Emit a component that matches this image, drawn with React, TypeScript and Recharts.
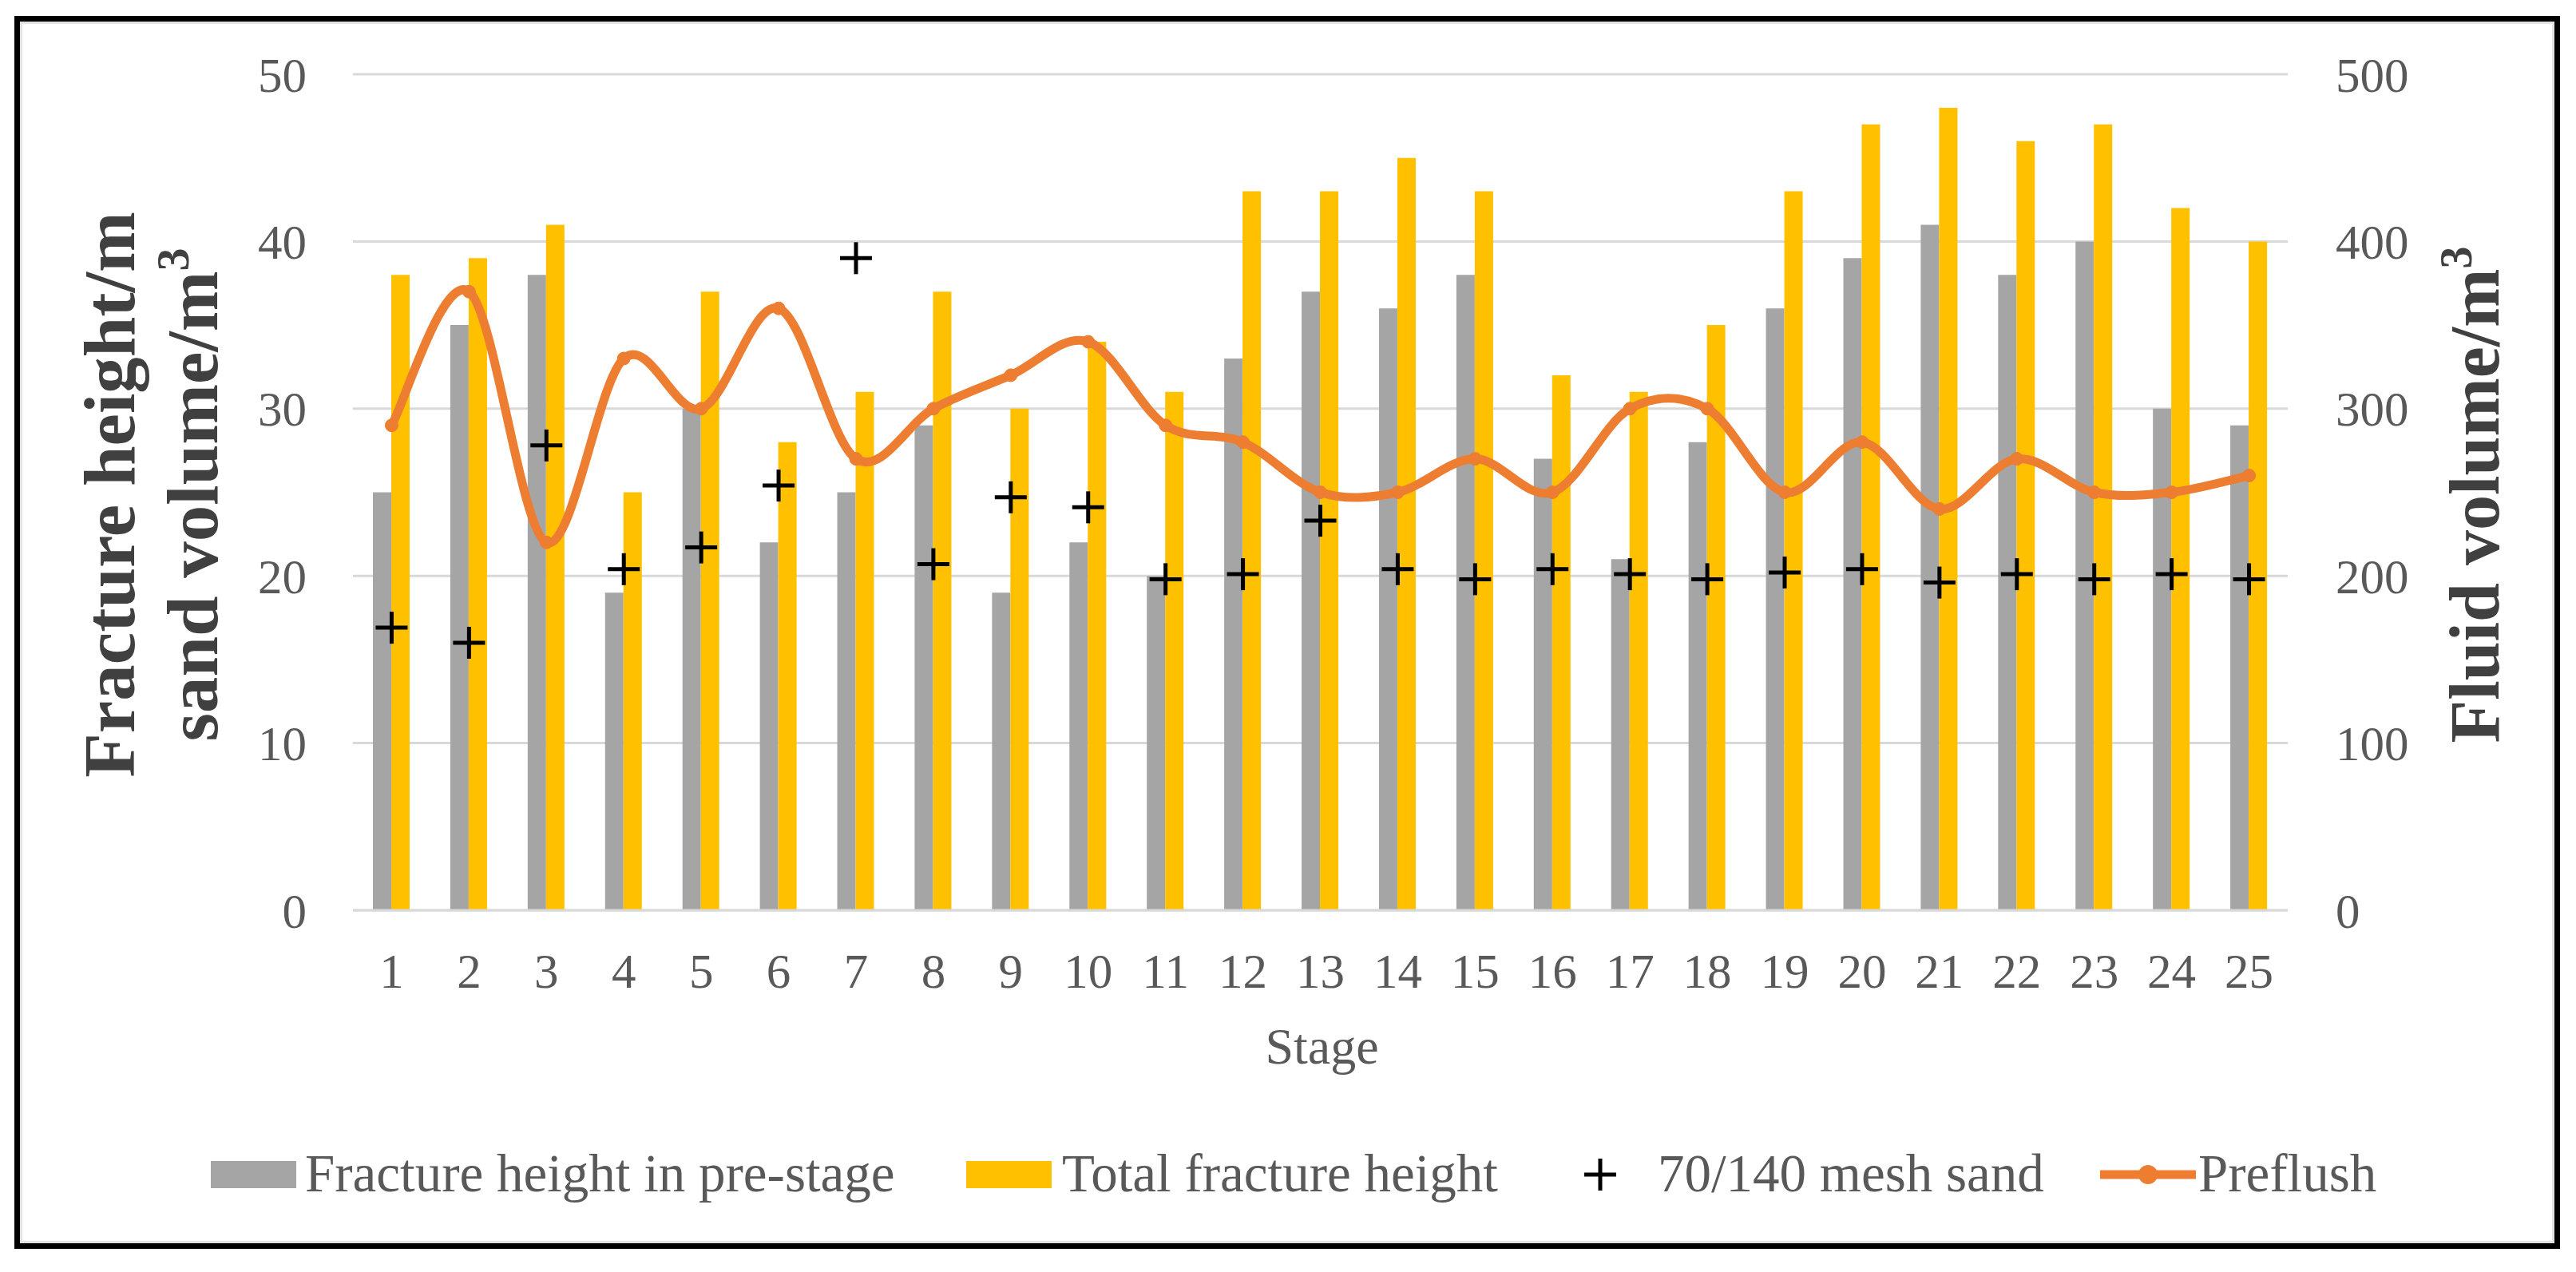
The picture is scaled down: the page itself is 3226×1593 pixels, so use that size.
import React from 'react';
import { ComposedChart, Bar, Line, Scatter, XAxis, YAxis, CartesianGrid, Legend, Label } from 'recharts';

const stages = ['1','2','3','4','5','6','7','8','9','10','11','12','13','14','15','16','17','18','19','20','21','22','23','24','25'];
const preStageHeight = [25,35,38,19,30,22,25,29,19,22,20,33,37,36,38,27,21,28,36,39,41,38,40,30,29];
const totalHeight = [38,39,41,25,37,28,31,37,30,34,31,43,43,45,43,32,31,35,43,47,48,46,47,42,40];
const meshSand = [16.9,16.0,27.8,20.4,21.7,25.4,39.0,20.7,24.7,24.1,19.8,20.1,23.3,20.4,19.8,20.4,20.1,19.8,20.2,20.4,19.6,20.1,19.8,20.1,19.8];
const preflush = [290,370,220,330,300,360,270,300,320,340,290,280,250,250,270,250,300,300,250,280,240,270,250,250,260];
const leftTicks = [0,10,20,30,40,50];
const rightTicks = [0,100,200,300,400,500];
const seriesNames = ['Fracture height in pre-stage','Total fracture height','70/140 mesh sand','Preflush'];

const data = stages.map((s, i) => ({
  stage: s,
  pre: preStageHeight[i],
  total: totalHeight[i],
  sand: meshSand[i],
  preflush: preflush[i],
}));

const SERIF = "'Liberation Serif', 'Times New Roman', serif";
const GRAY = '#A5A5A5';
const YELLOW = '#FFC000';
const ORANGE = '#ED7D31';
const TEXT = '#595959';
const TITLE = '#404040';

// Excel-like smoothed line (Catmull-Rom as cubic Bezier)
function excelSmooth(context: any) {
  let pts: number[][] = [];
  return {
    areaStart() {},
    areaEnd() {},
    lineStart() { pts = []; },
    point(x: number, y: number) { pts.push([+x, +y]); },
    lineEnd() {
      const n = pts.length;
      if (!n) return;
      context.moveTo(pts[0][0], pts[0][1]);
      for (let i = 0; i < n - 1; i++) {
        const p0 = pts[i - 1] || pts[i];
        const p1 = pts[i];
        const p2 = pts[i + 1];
        const p3 = pts[i + 2] || p2;
        context.bezierCurveTo(
          p1[0] + (p2[0] - p0[0]) / 6, p1[1] + (p2[1] - p0[1]) / 6,
          p2[0] - (p3[0] - p1[0]) / 6, p2[1] - (p3[1] - p1[1]) / 6,
          p2[0], p2[1]
        );
      }
    },
  };
}

const PlusShape = (props: any) => {
  const { cx, cy } = props;
  if (cx == null || cy == null) return null;
  const h = 20;
  return (
    <g>
      <line x1={cx - h} y1={cy} x2={cx + h} y2={cy} stroke="#000" strokeWidth={5} />
      <line x1={cx} y1={cy - h} x2={cx} y2={cy + h} stroke="#000" strokeWidth={5} />
    </g>
  );
};

const LeftTitle = (props: any) => {
  const vb = props.viewBox || {};
  const cy = vb.y + vb.height / 2 + 3;
  const x1 = vb.x - 74;
  const x2 = vb.x + 30;
  return (
    <g>
      <text x={x1} y={cy} transform={`rotate(-90, ${x1}, ${cy})`} textAnchor="middle" fontFamily={SERIF} fontWeight="bold" fontSize={91} fill={TITLE}>
        Fracture height/m
      </text>
      <text x={x2} y={cy} transform={`rotate(-90, ${x2}, ${cy})`} textAnchor="middle" fontFamily={SERIF} fontWeight="bold" fontSize={91} fill={TITLE}>
        sand volume/m<tspan dy={-36} fontSize={58}>3</tspan>
      </text>
    </g>
  );
};

const RightTitle = (props: any) => {
  const vb = props.viewBox || {};
  const cy = vb.y + vb.height / 2 + 3;
  const x = vb.x + 264;
  return (
    <text x={x} y={cy} transform={`rotate(-90, ${x}, ${cy})`} textAnchor="middle" fontFamily={SERIF} fontWeight="bold" fontSize={88} fill={TITLE}>
      Fluid volume/m<tspan dy={-34} fontSize={56}>3</tspan>
    </text>
  );
};

const StageTitle = (props: any) => {
  const vb = props.viewBox || {};
  return (
    <text x={vb.x + vb.width / 2 + 2} y={vb.y + 192} textAnchor="middle" fontFamily={SERIF} fontSize={64} fill={TEXT}>
      Stage
    </text>
  );
};

const LegendContent = () => {
  const base = 72;
  const fs = 67;
  return (
    <svg width={3226} height={100} style={{ display: 'block' }}>
      <rect x={264} y={34} width={107} height={34} fill={GRAY} />
      <text x={382} y={base} fontFamily={SERIF} fontSize={fs} fill={TEXT}>{seriesNames[0]}</text>
      <rect x={1210} y={34} width={107} height={34} fill={YELLOW} />
      <text x={1330} y={base} fontFamily={SERIF} fontSize={fs} fill={TEXT}>{seriesNames[1]}</text>
      <line x1={1984} y1={51} x2={2024} y2={51} stroke="#000" strokeWidth={5} />
      <line x1={2004} y1={31} x2={2004} y2={71} stroke="#000" strokeWidth={5} />
      <text x={2076} y={base} fontFamily={SERIF} fontSize={fs} fill={TEXT}>{seriesNames[2]}</text>
      <line x1={2630} y1={51} x2={2750} y2={51} stroke={ORANGE} strokeWidth={11} />
      <circle cx={2690} cy={51} r={12} fill={ORANGE} />
      <text x={2753} y={base} fontFamily={SERIF} fontSize={fs} fill={TEXT}>{seriesNames[3]}</text>
    </svg>
  );
};

export default function App() {
  return (
    <div style={{ position: 'absolute', left: 0, top: 0, width: 3226, height: 1593, background: '#fff' }}>
      <div style={{ position: 'absolute', left: 18, top: 20, width: 3188, height: 1544, border: '7px solid #000', boxSizing: 'border-box', boxShadow: 'inset 0 0 0 3px #e2e2e2' }} />
      <div style={{ position: 'absolute', left: 0, top: 0 }}>
        <ComposedChart
          width={3226}
          height={1593}
          data={data}
          margin={{ top: 93, right: 161, bottom: 353, left: 242 }}
          barGap={0}
        >
          <CartesianGrid yAxisId="left" vertical={false} stroke="#D9D9D9" strokeWidth={3} />
          <XAxis
            dataKey="stage"
            height={100}
            axisLine={{ stroke: '#D9D9D9', strokeWidth: 3 }}
            tickLine={false}
            tickSize={0}
            tickMargin={54}
            interval={0}
            tick={{ fill: TEXT, fontSize: 61, fontFamily: SERIF }}
          >
            <Label content={<StageTitle />} />
          </XAxis>
          <YAxis
            yAxisId="left"
            orientation="left"
            width={200}
            domain={[0, 50]}
            ticks={leftTicks}
            axisLine={false}
            tickLine={false}
            tickSize={0}
            tickMargin={58}
            tick={{ fill: TEXT, fontSize: 61, fontFamily: SERIF }}
          >
            <Label content={<LeftTitle />} />
          </YAxis>
          <YAxis
            yAxisId="right"
            orientation="right"
            width={200}
            domain={[0, 500]}
            ticks={rightTicks}
            axisLine={false}
            tickLine={false}
            tickSize={0}
            tickMargin={60}
            tick={{ fill: TEXT, fontSize: 61, fontFamily: SERIF, textAnchor: 'start' }}
          >
            <Label content={<RightTitle />} />
          </YAxis>
          <Bar yAxisId="left" dataKey="pre" name={seriesNames[0]} fill={GRAY} barSize={23} isAnimationActive={false} />
          <Bar yAxisId="left" dataKey="total" name={seriesNames[1]} fill={YELLOW} barSize={23} isAnimationActive={false} />
          <Line
            yAxisId="right"
            dataKey="preflush"
            name={seriesNames[3]}
            type={excelSmooth as any}
            stroke={ORANGE}
            strokeWidth={11}
            dot={{ r: 8, fill: ORANGE, stroke: ORANGE, strokeWidth: 1 }}
            activeDot={false}
            isAnimationActive={false}
          />
          <Scatter yAxisId="left" dataKey="sand" name={seriesNames[2]} shape={PlusShape} isAnimationActive={false} />
          <Legend
            layout="horizontal"
            verticalAlign="middle"
            align="center"
            wrapperStyle={{ position: 'absolute', left: 0, top: 1420, width: 3226, height: 100 }}
            content={<LegendContent />}
          />
        </ComposedChart>
      </div>
    </div>
  );
}
